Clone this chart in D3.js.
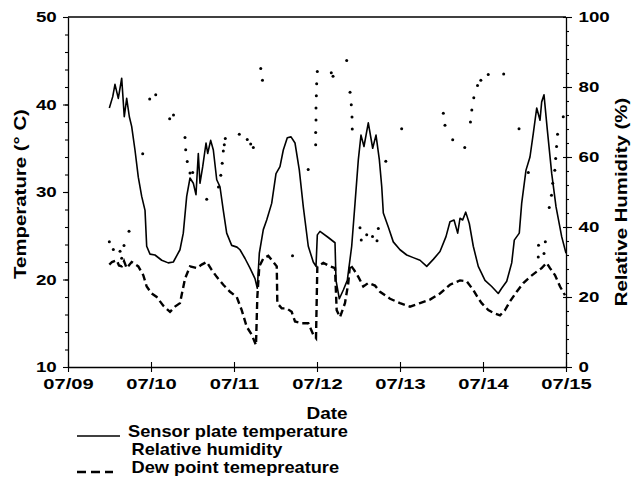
<!DOCTYPE html>
<html>
<head>
<meta charset="utf-8">
<script src="https://cdn.jsdelivr.net/npm/d3@7"></script>
<style>
  body { margin: 0; background: #fff; }
  text { font-family: "Liberation Sans", Arial, Helvetica, sans-serif; font-weight: bold; fill: #000; }
</style>
</head>
<body>
<svg id="chart" width="631" height="483"></svg>
<script>
// x values are days since 07/09 00:00
var dateLabels = ["07/09", "07/10", "07/11", "07/12", "07/13", "07/14", "07/15"];

var tempDay = [0.498, 0.539, 0.566, 0.606, 0.647, 0.678, 0.707, 0.739, 0.767, 0.807, 0.847, 0.888, 0.928, 0.948, 0.988,
  1.048, 1.129, 1.208, 1.269, 1.349, 1.389, 1.430, 1.470, 1.510, 1.542, 1.570, 1.590, 1.623, 1.663, 1.683, 1.719, 1.751,
  1.792, 1.831, 1.871, 1.912, 1.972, 2.036, 2.072, 2.133, 2.193, 2.253, 2.281, 2.305, 2.353, 2.394, 2.454, 2.506, 2.554,
  2.594, 2.642, 2.687, 2.735, 2.787, 2.835, 2.895, 2.955, 2.988, 3.004, 3.036, 3.136, 3.217, 3.229, 3.269, 3.317, 3.365,
  3.418, 3.458, 3.498, 3.530, 3.566, 3.618, 3.671, 3.711, 3.751, 3.780, 3.799, 3.859, 3.919, 4.000, 4.081, 4.160, 4.241,
  4.322, 4.401, 4.482, 4.554, 4.602, 4.651, 4.695, 4.723, 4.755, 4.792, 4.835, 4.883, 4.943, 5.024, 5.105, 5.184, 5.225,
  5.286, 5.346, 5.377, 5.437, 5.466, 5.518, 5.566, 5.606, 5.647, 5.687, 5.707, 5.735, 5.775, 5.828, 5.880, 5.948, 6.000];
var tempVal = [39.6, 40.9, 42.3, 40.7, 43.0, 38.6, 40.7, 38.6, 37.5, 34.8, 31.7, 29.5, 27.9, 23.8, 22.9,
  22.8, 22.2, 21.9, 22.0, 23.4, 25.3, 29.5, 31.6, 31.0, 29.7, 34.4, 31.0, 32.9, 35.6, 34.4, 35.9, 34.8,
  31.4, 30.6, 27.9, 25.3, 23.9, 23.7, 23.4, 22.4, 21.3, 20.1, 19.0, 23.0, 25.7, 26.8, 28.7, 32.1, 32.9,
  34.8, 36.2, 36.3, 35.6, 32.5, 28.3, 23.8, 22.0, 21.5, 25.1, 25.5, 24.8, 24.2, 19.9, 17.8, 18.8, 19.9,
  23.8, 28.7, 33.7, 36.5, 35.2, 37.9, 35.0, 36.5, 33.7, 30.6, 27.6, 26.0, 24.3, 23.4, 22.8, 22.5, 22.2,
  21.5, 22.3, 23.2, 24.9, 26.6, 26.8, 25.3, 27.0, 26.8, 27.7, 26.4, 23.8, 21.5, 19.9, 19.2, 18.4, 19.0,
  19.8, 21.9, 24.5, 25.3, 28.7, 32.5, 34.0, 36.7, 39.6, 38.2, 40.3, 41.1, 37.1, 32.1, 28.3, 24.9, 23.0];

var dewDay = [0.498, 0.530, 0.587, 0.614, 0.647, 0.675, 0.707, 0.767, 0.847, 0.907, 0.948, 1.008, 1.069, 1.148, 1.229,
  1.289, 1.349, 1.410, 1.470, 1.551, 1.611, 1.671, 1.731, 1.792, 1.871, 1.952, 2.033, 2.093, 2.153, 2.213, 2.265, 2.281,
  2.305, 2.353, 2.413, 2.474, 2.515, 2.522, 2.575, 2.635, 2.695, 2.735, 2.816, 2.895, 2.955, 2.988, 3.004, 3.076, 3.157,
  3.217, 3.237, 3.277, 3.337, 3.377, 3.398, 3.446, 3.498, 3.558, 3.618, 3.699, 3.759, 3.880, 4.000, 4.120, 4.241, 4.361,
  4.482, 4.602, 4.723, 4.803, 4.883, 4.940, 4.984, 5.064, 5.145, 5.205, 5.265, 5.325, 5.406, 5.486, 5.566, 5.647, 5.707,
  5.767, 5.807, 5.867, 5.928, 5.988];
var dewVal = [21.7, 22.0, 22.2, 21.6, 21.5, 22.1, 21.3, 22.0, 21.5, 20.5, 19.2, 18.4, 18.0, 17.0, 16.3,
  16.9, 17.3, 20.1, 21.5, 21.3, 21.7, 22.0, 21.1, 20.3, 19.4, 18.6, 18.0, 16.5, 14.6, 13.7, 12.5, 18.0,
  21.5, 22.4, 22.7, 22.0, 21.5, 17.3, 16.7, 16.7, 16.3, 15.2, 15.0, 15.0, 13.7, 13.3, 21.5, 21.9, 21.5,
  21.3, 16.5, 15.7, 17.3, 19.6, 21.7, 21.1, 20.3, 19.2, 19.6, 19.3, 18.6, 17.8, 17.3, 16.9, 17.3, 17.7,
  18.4, 19.4, 19.9, 19.8, 18.8, 17.9, 17.3, 16.5, 16.1, 15.9, 16.5, 17.5, 18.6, 19.6, 20.3, 20.9, 21.3,
  21.9, 21.3, 20.5, 19.2, 18.2];

var rhDay = [0.498, 0.546, 0.627, 0.647, 0.675, 0.735, 0.900, 0.984, 1.057, 1.225, 1.271, 1.410, 1.418, 1.437, 1.470,
  1.502, 1.671, 1.813, 1.841, 1.858, 1.871, 1.883, 1.895, 2.064, 2.160, 2.201, 2.233, 2.322, 2.343, 2.705, 2.894, 2.984,
  2.984, 2.988, 2.988, 2.992, 2.996, 3.004, 3.172, 3.193, 3.358, 3.398, 3.413, 3.422, 3.425, 3.518, 3.533, 3.599, 3.669,
  3.723, 3.739, 3.829, 4.020, 4.522, 4.542, 4.635, 4.780, 4.849, 4.865, 4.889, 4.934, 4.974, 5.063, 5.249, 5.434, 5.546,
  5.666, 5.669, 5.735, 5.751, 5.798, 5.825, 5.840, 5.865, 5.876, 5.886, 5.898, 5.967];
var rhVal = [35.8, 33.6, 33.1, 31.1, 34.7, 38.8, 60.9, 76.6, 77.8, 70.9, 72.0, 65.6, 62.1, 58.7, 55.4,
  55.6, 47.9, 51.4, 54.8, 58.2, 61.7, 63.5, 65.3, 66.5, 65.0, 63.7, 62.7, 85.3, 81.9, 31.8, 56.4, 63.5,
  67.0, 70.6, 74.0, 77.5, 80.9, 84.4, 84.1, 83.1, 87.6, 78.5, 74.9, 71.4, 68.0, 39.8, 36.3, 37.8, 37.3,
  36.1, 39.6, 58.8, 68.1, 72.5, 69.1, 64.9, 62.7, 70.0, 73.4, 76.9, 80.4, 81.9, 83.6, 83.7, 68.1, 55.6,
  31.4, 34.8, 32.4, 35.8, 45.6, 49.1, 52.5, 56.2, 59.6, 63.0, 66.5, 71.5];

var tempTicks = [10, 20, 30, 40, 50];
var rhTicks = [0, 20, 40, 60, 80, 100];

var svg = d3.select("#chart");
var plotLeft = 68, plotRight = 566, plotTop = 17, plotBottom = 367;

var x = d3.scaleLinear().domain([0, 6]).range([plotLeft, plotRight]);
var yT = d3.scaleLinear().domain([10, 50]).range([plotBottom, plotTop]);
var yRH = d3.scaleLinear().domain([0, 100]).range([plotBottom, plotTop]);

// top frame line
svg.append("line")
  .attr("x1", plotLeft).attr("x2", plotRight).attr("y1", plotTop).attr("y2", plotTop)
  .attr("stroke", "#000").attr("stroke-width", 1.3);

// left axis: minor then major
svg.append("g").attr("transform", "translate(" + plotLeft + ",0)")
  .call(d3.axisLeft(yT).tickValues(d3.range(12, 50, 2)).tickSize(3).tickSizeOuter(0).tickFormat(""))
  .call(function (g) { g.select(".domain").remove(); });
var gl = svg.append("g").attr("transform", "translate(" + plotLeft + ",0)")
  .call(d3.axisLeft(yT).tickValues(tempTicks).tickSize(5).tickSizeOuter(0).tickPadding(4));
gl.selectAll("text").attr("font-size", 15).attr("transform", "scale(1.25,1)");

// right axis
svg.append("g").attr("transform", "translate(" + plotRight + ",0)")
  .call(d3.axisRight(yRH).tickValues(d3.range(4, 100, 4)).tickSize(3).tickSizeOuter(0).tickFormat(""))
  .call(function (g) { g.select(".domain").remove(); });
var gr = svg.append("g").attr("transform", "translate(" + plotRight + ",0)")
  .call(d3.axisRight(yRH).tickValues(rhTicks).tickSize(6).tickSizeOuter(0).tickPadding(4));
gr.selectAll(".tick line").attr("x1", -3);
gr.selectAll("text").attr("font-size", 15).attr("transform", "scale(1.25,1)");

// bottom axis
var gb = svg.append("g").attr("transform", "translate(0," + plotBottom + ")")
  .call(d3.axisBottom(x).tickValues(d3.range(0, 7)).tickSize(5).tickSizeOuter(0)
    .tickFormat(function (d) { return dateLabels[d]; }));
gb.selectAll(".tick line").attr("y1", -5);
gb.selectAll("text").attr("font-size", 15.5).attr("y", 11).attr("transform", "scale(1.3,1)");

svg.selectAll(".domain").attr("stroke-width", 1.3);
svg.selectAll(".tick line").attr("stroke-width", 1.1);

// lines
var tempLine = d3.line().x(function (d, i) { return x(tempDay[i]); }).y(function (d) { return yT(d); });
var dewLine = d3.line().x(function (d, i) { return x(dewDay[i]); }).y(function (d) { return yT(d); });

svg.append("path")
  .attr("d", tempLine(tempVal))
  .attr("fill", "none").attr("stroke", "#000").attr("stroke-width", 1.6)
  .attr("stroke-linejoin", "round");

svg.append("path")
  .attr("d", dewLine(dewVal))
  .attr("fill", "none").attr("stroke", "#000").attr("stroke-width", 2.4)
  .attr("stroke-dasharray", "7,4");

// relative humidity dots
svg.selectAll(".rh")
  .data(rhVal)
  .enter().append("circle")
  .attr("class", "rh")
  .attr("cx", function (d, i) { return x(rhDay[i]); })
  .attr("cy", function (d) { return yRH(d); })
  .attr("r", 1.5)
  .attr("fill", "#000");

// axis titles
svg.append("text")
  .attr("transform", "translate(25.5,194) rotate(-90) scale(1.2,1)")
  .attr("text-anchor", "middle").attr("font-size", 17)
  .text("Temperature (° C)");
svg.append("text")
  .attr("transform", "translate(627,202) rotate(-90) scale(1.2,1)")
  .attr("text-anchor", "middle").attr("font-size", 17)
  .text("Relative Humidity (%)");
svg.append("text")
  .attr("transform", "translate(327,419) scale(1.15,1)")
  .attr("text-anchor", "middle").attr("font-size", 16.5)
  .text("Date");

// legend
svg.append("line").attr("x1", 77).attr("x2", 120).attr("y1", 436).attr("y2", 436)
  .attr("stroke", "#000").attr("stroke-width", 1.6);
svg.append("text").attr("transform", "translate(128,437) scale(1.14,1)")
  .attr("font-size", 16).text("Sensor plate temperature");
svg.append("text").attr("transform", "translate(131.5,455) scale(1.14,1)")
  .attr("font-size", 16).text("Relative humidity");
svg.append("line").attr("x1", 77).attr("x2", 113).attr("y1", 472).attr("y2", 472)
  .attr("stroke", "#000").attr("stroke-width", 2.4).attr("stroke-dasharray", "9,5");
svg.append("text").attr("transform", "translate(131.5,473) scale(1.14,1)")
  .attr("font-size", 16).text("Dew point temepreature");
</script>
</body>
</html>
